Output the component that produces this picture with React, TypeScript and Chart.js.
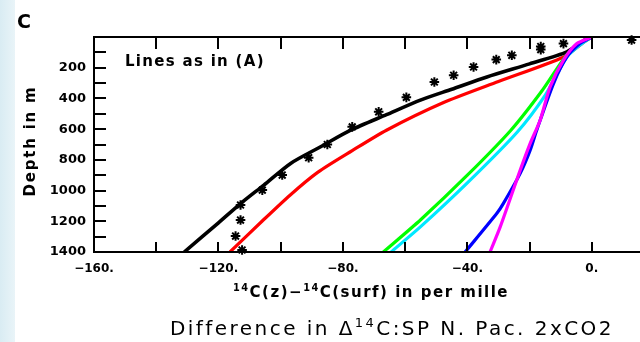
import React, { useEffect, useRef } from 'react';
import { Chart, registerables } from 'chart.js';

Chart.register(...registerables);

// ---- data (x = per mille difference, y = depth in m) ----
const blackX = [0, -1.6, -8, -20, -33.7, -45, -55.1, -66, -77.5, -87, -96.8, -105.4, -112.8, -120, -131];
const blackD = [0, 10, 97, 175, 260, 340, 411, 506, 607, 713, 823, 964, 1083, 1210, 1400];

const redX = [0, -3, -9, -30, -48, -66, -77, -88, -97, -106, -116.3];
const redD = [0, 40, 130, 290, 430, 607, 740, 880, 1030, 1200, 1400];

const greenX = [0, -3, -8, -16, -26, -40, -55, -67];
const greenD = [0, 35, 115, 350, 607, 900, 1190, 1400];

const cyanX = [0, -3, -8, -15, -24, -40, -55, -64.5];
const cyanD = [0, 40, 130, 380, 620, 950, 1235, 1400];

const blueX = [0, -3.8, -8, -12.3, -17.7, -19.8, -23, -28.4, -30.5, -40.7];
const blueD = [0, 43, 130, 303, 607, 737, 888, 1083, 1148, 1400];

const magentaX = [0, -4.8, -9.1, -13.4, -16.6, -19.8, -23, -29.4, -32.7];
const magentaD = [0, 43, 151, 325, 542, 693, 867, 1235, 1400];

const obsX = [12.8, -9.1, -16.4, -16.4, -25.7, -30.7, -38, -44.4, -50.6, -59.6, -68.5, -77, -85, -91, -99.5, -105.9, -112.9, -112.9, -114.5, -112.4];
const obsD = [20, 43, 62, 82, 119, 147, 195, 249, 293, 393, 487, 585, 700, 786, 899, 997, 1094, 1192, 1296, 1387];

// ---- axes ----
const X_MIN = -160;
const X_MAX = 15.5;
const X_STEP = 20;
const xLabelValues = [-160, -120, -80, -40, 0];
const Y_MIN = 0;
const Y_MAX = 1400;
const Y_STEP = 100;
const yLabelValues = [200, 400, 600, 800, 1000, 1200, 1400];

const panelLetter = 'C';
const noteText = 'Lines as in (A)';
const yTitle = 'Depth in m';
const captionText = ['Difference in Δ', '14', 'C:SP N. Pac. 2xCO2'];

const pts = (xs: number[], ds: number[]) => xs.map((v, i) => ({ x: v, y: ds[i] }));

const lineDs = (label: string, xs: number[], ds: number[], color: string, w = 3.2) => ({
  label,
  data: pts(xs, ds),
  showLine: true,
  borderColor: color,
  backgroundColor: color,
  borderWidth: w,
  pointRadius: 0,
  tension: 0.25,
});

const framePlugin = {
  id: 'frame',
  afterDatasetsDraw(chart: any) {
    const { ctx, chartArea: a, scales } = chart;
    const xs = scales.x;
    const ys = scales.y;
    ctx.save();
    ctx.strokeStyle = '#000';
    ctx.lineWidth = 2;
    ctx.beginPath();
    ctx.moveTo(a.right + 2, a.top);
    ctx.lineTo(a.left, a.top);
    ctx.lineTo(a.left, a.bottom);
    ctx.lineTo(a.right + 2, a.bottom);
    ctx.stroke();
    ctx.beginPath();
    for (let v = X_MIN; v <= X_MAX; v += X_STEP) {
      const px = Math.round(xs.getPixelForValue(v));
      ctx.moveTo(px, a.bottom);
      ctx.lineTo(px, a.bottom - 10);
      ctx.moveTo(px, a.top);
      ctx.lineTo(px, a.top + 12);
    }
    for (let d = Y_MIN + Y_STEP; d <= Y_MAX; d += Y_STEP) {
      const py = Math.round(ys.getPixelForValue(d));
      ctx.moveTo(a.left, py);
      ctx.lineTo(a.left + 12, py);
    }
    ctx.stroke();
    ctx.restore();
  },
};

function ChartCanvas() {
  const ref = useRef<HTMLCanvasElement>(null);
  useEffect(() => {
    if (!ref.current) return;
    const chart = new Chart(ref.current, {
      type: 'scatter',
      data: {
        datasets: [
          {
            label: 'obs',
            data: pts(obsX, obsD),
            showLine: false,
            pointStyle: 'star',
            pointRadius: 4.8,
            pointBorderWidth: 2,
            borderColor: '#000',
            backgroundColor: '#000',
            clip: false,
          } as any,
          lineDs('magenta', magentaX, magentaD, '#ff00ff'),
          lineDs('blue', blueX, blueD, '#0000ff'),
          lineDs('cyan', cyanX, cyanD, '#00e8ff'),
          lineDs('green', greenX, greenD, '#00ff00'),
          lineDs('black', blackX, blackD, '#000000', 3.6),
          lineDs('red', redX, redD, '#ff0000'),
        ],
      },
      options: {
        animation: false,
        responsive: false,
        devicePixelRatio: 1,
        layout: { autoPadding: false, padding: { left: 0, right: 0, top: 37, bottom: 0 } },
        plugins: { legend: { display: false }, tooltip: { enabled: false } },
        scales: {
          x: {
            type: 'linear',
            min: X_MIN,
            max: X_MAX,
            grid: { display: false, drawTicks: false },
            border: { display: false },
            ticks: {
              stepSize: X_STEP,
              includeBounds: false,
              padding: 10,
              color: '#000',
              font: { family: 'DejaVu Sans', size: 12, weight: 'bold' },
              maxRotation: 0,
              autoSkip: false,
              callback: (v: any) =>
                xLabelValues.includes(Number(v)) ? `${Number(v) < 0 ? '−' : ''}${Math.abs(Number(v))}.` : null,
            },
            afterFit: (s: any) => {
              s.height = 342 - 252;
              s.paddingLeft = 0;
              s.paddingRight = 0;
              s.paddingTop = 0;
              s.paddingBottom = 0;
            },
          },
          y: {
            type: 'linear',
            reverse: true,
            min: Y_MIN,
            max: Y_MAX,
            grid: { display: false, drawTicks: false },
            border: { display: false },
            ticks: {
              stepSize: Y_STEP,
              padding: 8,
              color: '#000',
              font: { family: 'DejaVu Sans', size: 13, weight: 'bold' },
              autoSkip: false,
              callback: (v: any) => (yLabelValues.includes(Number(v)) ? String(v) : null),
            },
            afterFit: (s: any) => {
              s.width = 94;
              s.paddingLeft = 0;
              s.paddingRight = 0;
              s.paddingTop = 0;
              s.paddingBottom = 0;
            },
          },
        },
      } as any,
      plugins: [framePlugin],
    });
    return () => chart.destroy();
  }, []);
  return <canvas ref={ref} width={640} height={342} style={{ position: 'absolute', left: 0, top: 0 }} />;
}

const sup = (t: string) => (
  <span style={{ fontSize: '0.65em', position: 'relative', top: '-0.6em' }}>{t}</span>
);

export default function App() {
  const font = "'DejaVu Sans', sans-serif";
  return (
    <div
      style={{
        position: 'absolute',
        left: 0,
        top: 0,
        width: 640,
        height: 342,
        overflow: 'hidden',
        background: '#ffffff',
        fontFamily: font,
        color: '#000',
      }}
    >
      <div
        style={{
          position: 'absolute',
          left: 0,
          top: 0,
          width: 15,
          height: 342,
          background: 'linear-gradient(to right, #d9ecf3, #e9f4f8)',
        }}
      />
      <ChartCanvas />
      <div style={{ position: 'absolute', left: 17, top: 12, fontSize: 19, fontWeight: 'bold', lineHeight: 1 }}>
        {panelLetter}
      </div>
      <div
        style={{
          position: 'absolute',
          left: 125,
          top: 54,
          fontSize: 15,
          fontWeight: 'bold',
          lineHeight: 1,
          letterSpacing: 1.3,
          whiteSpace: 'nowrap',
        }}
      >
        {noteText}
      </div>
      <div
        style={{
          position: 'absolute',
          left: 30,
          top: 141,
          fontSize: 15,
          fontWeight: 'bold',
          lineHeight: 1,
          letterSpacing: 1.8,
          whiteSpace: 'nowrap',
          transform: 'translate(-50%, -50%) rotate(-90deg)',
        }}
      >
        {yTitle}
      </div>
      <div
        style={{
          position: 'absolute',
          left: 371,
          top: 285,
          fontSize: 15,
          fontWeight: 'bold',
          lineHeight: 1,
          letterSpacing: 1.5,
          whiteSpace: 'nowrap',
          transform: 'translateX(-50%)',
        }}
      >
        {sup('14')}C(z)−{sup('14')}C(surf) in per mille
      </div>
      <div
        style={{
          position: 'absolute',
          left: 170,
          top: 318,
          fontSize: 20,
          lineHeight: 1,
          letterSpacing: 2.45,
          whiteSpace: 'nowrap',
        }}
      >
        {captionText[0]}
        {sup(captionText[1])}
        {captionText[2]}
      </div>
    </div>
  );
}
